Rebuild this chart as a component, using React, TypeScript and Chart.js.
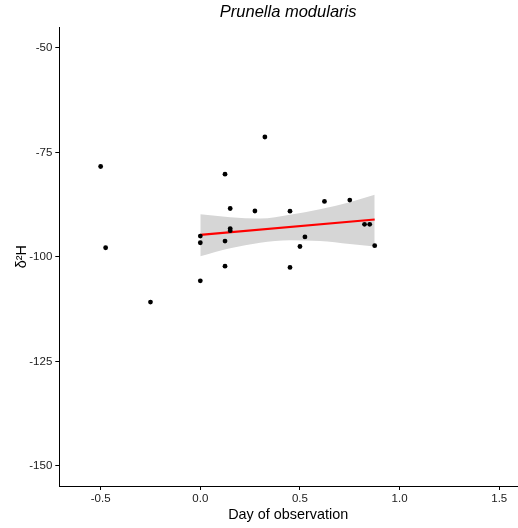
import React, { useEffect, useRef } from "react";
import { Chart, registerables } from "chart.js";

Chart.register(...registerables);

// Observations (day of observation, δ2H)
const obsX = [-0.5, -0.475, -0.25, 0, 0, 0, 0.124, 0.124, 0.124, 0.15, 0.15, 0.15, 0.274, 0.324, 0.45, 0.45, 0.5, 0.525, 0.623, 0.75, 0.824, 0.85, 0.875];
const obsY = [-78.35, -97.8, -110.8, -95.0, -96.6, -105.7, -80.2, -96.2, -102.2, -88.4, -93.2, -93.7, -89.0, -71.3, -89.05, -102.5, -97.5, -95.2, -86.7, -86.4, -92.2, -92.2, -97.3];

// Fitted regression line endpoints
const fitX = [0, 0.875];
const fitY = [-94.73, -91.04];

// Confidence band
const bandX = [0, 0.15, 0.3, 0.45, 0.6, 0.75, 0.875];
const bandUpper = [-89.8, -90.5, -90.8, -89.9, -88.6, -86.9, -85.1];
const bandLower = [-99.8, -97.9, -96.6, -96.0, -96.2, -96.9, -97.5];

const xTicks = [-0.5, 0, 0.5, 1.0, 1.5];
const yTicks = [-150, -125, -100, -75, -50];

const FONT = "'Liberation Sans', Arial, sans-serif";

export default function App() {
  const ref = useRef<HTMLCanvasElement | null>(null);

  useEffect(() => {
    if (!ref.current) return;
    const toPts = (xs: number[], ys: number[]) => xs.map((x, i) => ({ x, y: ys[i] }));
    const chart = new Chart(ref.current, {
      type: "scatter",
      data: {
        datasets: [
          {
            label: "obs",
            data: toPts(obsX, obsY),
            backgroundColor: "#000",
            borderColor: "#000",
            pointRadius: 2.4,
            pointBorderWidth: 0,
            order: 0,
          },
          {
            label: "fit",
            data: toPts(fitX, fitY),
            showLine: true,
            borderColor: "#ff0000",
            borderWidth: 2.2,
            pointRadius: 0,
            order: 1,
          },
          {
            label: "upper",
            data: toPts(bandX, bandUpper),
            showLine: true,
            borderWidth: 0,
            borderColor: "rgba(0,0,0,0)",
            pointRadius: 0,
            tension: 0.4,
            cubicInterpolationMode: "monotone",
            fill: false,
            order: 2,
          },
          {
            label: "lower",
            data: toPts(bandX, bandLower),
            showLine: true,
            borderWidth: 0,
            borderColor: "rgba(0,0,0,0)",
            pointRadius: 0,
            tension: 0.4,
            cubicInterpolationMode: "monotone",
            fill: "-1",
            backgroundColor: "#d6d6d6",
            order: 3,
          },
        ],
      },
      options: {
        responsive: false,
        animation: false,
        layout: { autoPadding: false, padding: { left: 0, right: 1, top: 0, bottom: 0 } },
        plugins: {
          legend: { display: false },
          tooltip: { enabled: false },
          title: {
            display: true,
            fullSize: false,
            text: "Prunella modularis",
            color: "#000",
            font: { family: FONT, size: 16.5, style: "italic", weight: "normal", lineHeight: 1.2 },
            padding: { top: 3, bottom: 4.5 },
          },
        },
        scales: {
          x: {
            type: "linear",
            min: -0.7075,
            max: 1.589,
            afterBuildTicks: (s: any) => {
              s.ticks = xTicks.map((v) => ({ value: v }));
            },
            afterFit: (s: any) => {
              s.height = 42;
            },
            ticks: {
              color: "#1a1a1a",
              font: { family: FONT, size: 11.5 },
              padding: 2,
              callback: (v: any) => Number(v).toFixed(1),
              maxRotation: 0,
            },
            grid: { drawOnChartArea: false, drawTicks: true, tickLength: 4, color: "#000", lineWidth: 1 },
            border: { display: true, color: "#000", width: 1 },
            title: {
              display: true,
              text: "Day of observation",
              color: "#000",
              font: { family: FONT, size: 14.4, lineHeight: 1.2 },
              padding: { top: 0, bottom: 4 },
            },
          },
          y: {
            type: "linear",
            min: -154.8,
            max: -45.05,
            afterBuildTicks: (s: any) => {
              s.ticks = yTicks.map((v) => ({ value: v }));
            },
            afterFit: (s: any) => {
              s.width = 59.3;
            },
            ticks: {
              color: "#1a1a1a",
              font: { family: FONT, size: 11.5 },
              padding: 3,
              callback: (v: any) => String(v),
            },
            grid: { drawOnChartArea: false, drawTicks: true, tickLength: 4, color: "#000", lineWidth: 1 },
            border: { display: true, color: "#000", width: 1 },
            title: {
              display: true,
              text: "δ²H",
              color: "#000",
              font: { family: FONT, size: 14.4, lineHeight: 1.2 },
              padding: { top: 13, bottom: 0 },
            },
          },
        },
      },
    } as any);
    return () => chart.destroy();
  }, []);

  return (
    <div style={{ position: "absolute", left: 0, top: 0, width: 518, height: 528, background: "#fff" }}>
      <canvas ref={ref} width={518} height={528} style={{ display: "block" }} />
    </div>
  );
}
